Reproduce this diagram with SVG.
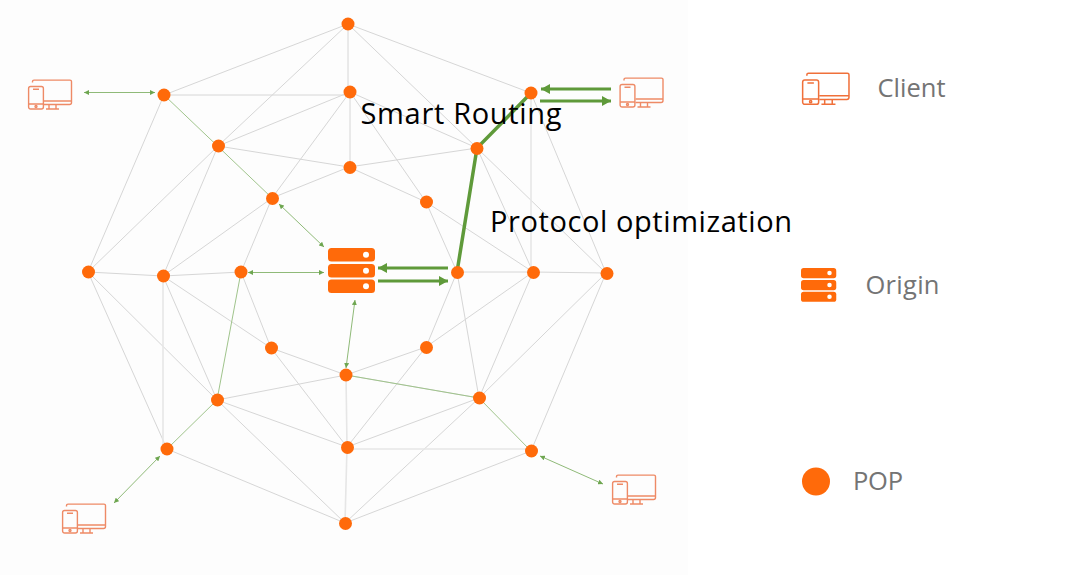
<svg xmlns="http://www.w3.org/2000/svg" width="1072" height="575" viewBox="0 0 1072 575">
<style>
.e{stroke:#d6d6d6;stroke-width:1;fill:none}
.w{stroke:#e6e6e6;stroke-width:1.6;fill:none}
.g{stroke:#a0c48c;stroke-width:1;fill:none}
.a{stroke:#8fba78;stroke-width:1;fill:none;marker-start:url(#ts);marker-end:url(#te)}
.t{stroke:#5f9a3a;stroke-width:3.500;fill:none}
.b{stroke:#5f9a3a;stroke-width:3;fill:none;marker-end:url(#be)}
.n{fill:#ff6a0a}
.l{font-family:"Open Sans","Noto Sans",sans-serif;font-size:25.500px;fill:#747474}
.c{font-family:"Open Sans","Noto Sans",sans-serif;font-size:29px;fill:#000}
.i{fill:none;stroke:#ee8a66;stroke-width:1.400;stroke-linejoin:round}
.s{fill:#ff6a0a}.h{fill:#fff}
</style>
<defs>
<marker id="te" markerUnits="userSpaceOnUse" markerWidth="5" markerHeight="5" refX="5" refY="2.500" orient="auto"><path d="M0 0L5 2.500L0 5Z" fill="#6ea650"/></marker>
<marker id="ts" markerUnits="userSpaceOnUse" markerWidth="5" markerHeight="5" refX="0" refY="2.500" orient="auto"><path d="M5 0L0 2.500L5 5Z" fill="#6ea650"/></marker>
<marker id="be" markerUnits="userSpaceOnUse" markerWidth="10" markerHeight="10" refX="9" refY="5" orient="auto"><path d="M0 0L9 5L0 10Z" fill="#5f9a3a"/></marker>
<g id="dev">
<path d="M4.500 3V2Q4.500 .6 6 .6H42Q43.500 .6 43.500 2V23Q43.500 25 41.500 25H16M16 21.500H43.500M21 25V29.500M28 25V29.500M18 29.500H31"/>
<rect x=".6" y="7" width="14.800" height="22.500" rx="2"/>
<path d="M.6 24.500H15.400M5 9.800H11"/>
<circle cx="8" cy="27" r="1"/>
</g>
<g id="srv">
<rect class="s" x="0" y="0" width="47" height="13.500" rx="3.500"/><circle class="h" cx="38" cy="6.800" r="3"/>
<rect class="s" x="0" y="16" width="47" height="13.500" rx="3.500"/><circle class="h" cx="38" cy="22.800" r="3"/>
<rect class="s" x="0" y="31.500" width="47" height="13.500" rx="3.500"/><circle class="h" cx="38" cy="38.300" r="3"/>
</g>
</defs>
<rect x="0" y="0" width="688" height="575" fill="#fdfdfd"/>
<g id="connectors">
<path class="e" d="M348 24L164 95M348 24L218 146M348 24V92M348 24L531 93M348 24L477 148M164 95H350M164 95L88 272M350 92L218 146M350 92L272 198M350 92V167M350 92L477 148M350 92L426 202M218 146L349 167M218 146L88 272M218 146L163 276M272 198L349 167M272 198L163 276M272 198L241 272M349 167L477 148M349 167L426 202M477 148L533 272M477 148L606 273M531 93L606 273M426 202L457 272M426 202L533 272M88 272L163 276M88 272L167 449M88 272L217 400M163 276L241 272M163 276L217 400M163 276L271 348M241 272L271 348M457 272L533 272M533 272L606 273M457 272L426 347M457 272L479 398M533 272L426 347M533 272L479 398M606 273L479 398M606 273L531 451M271 348L346 375M271 348L347 447M426 347L346 375M426 347L347 447M346 375L217 400M346 375L479 398M479 398L347 447M479 398L345 523M217 400L347 447M217 400L345 523M167 449L345 523M531 451L345 523"/>
<path class="w" d="M531 93V272M163 276L163 449M346 375L347 447L345 523M347 449H531"/>
<path class="g" d="M164 95L272 198M241 272L217 400M217 400L167 449M346 375L479 398L531 451"/>
<path class="t" d="M531 93L477 148L457 272"/>
<path class="b" d="M611 89H541"/>
<path class="b" d="M540 101H611"/>
<path class="b" d="M448 268H378"/>
<path class="b" d="M378 281H448"/>
<path class="a" d="M84 92.500H155"/>
<path class="a" d="M279 204L324 247"/>
<path class="a" d="M248 272.500H324"/>
<path class="a" d="M355 300L346 368"/>
<path class="a" d="M114 503L160 456"/>
<path class="a" d="M540 456L603 484"/>
</g>
<g id="pops">
<circle id="pop-a" class="n" cx="348" cy="24" r="6.500"/>
<circle id="pop-b" class="n" cx="164" cy="95" r="6.500"/>
<circle id="pop-c" class="n" cx="350" cy="92" r="6.500"/>
<circle id="pop-d" class="n" cx="531" cy="93" r="6.500"/>
<circle id="pop-e" class="n" cx="218.500" cy="146" r="6.500"/>
<circle id="pop-f" class="n" cx="350" cy="167.500" r="6.500"/>
<circle id="pop-g" class="n" cx="477" cy="148.500" r="6.500"/>
<circle id="pop-h" class="n" cx="272.500" cy="198.500" r="6.500"/>
<circle id="pop-i" class="n" cx="426.500" cy="202" r="6.500"/>
<circle id="pop-j" class="n" cx="88.500" cy="272" r="6.500"/>
<circle id="pop-k" class="n" cx="163.500" cy="276" r="6.500"/>
<circle id="pop-l" class="n" cx="241" cy="272" r="6.500"/>
<circle id="pop-m" class="n" cx="457.500" cy="272.500" r="6.500"/>
<circle id="pop-n" class="n" cx="533.500" cy="272.500" r="6.500"/>
<circle id="pop-o" class="n" cx="607" cy="273.500" r="6.500"/>
<circle id="pop-p" class="n" cx="271.500" cy="348" r="6.500"/>
<circle id="pop-q" class="n" cx="426.500" cy="347.500" r="6.500"/>
<circle id="pop-r" class="n" cx="346" cy="375" r="6.500"/>
<circle id="pop-s" class="n" cx="217.500" cy="400" r="6.500"/>
<circle id="pop-t" class="n" cx="479.500" cy="398" r="6.500"/>
<circle id="pop-u" class="n" cx="347.500" cy="447.500" r="6.500"/>
<circle id="pop-v" class="n" cx="167" cy="449" r="6.500"/>
<circle id="pop-w" class="n" cx="531.500" cy="451" r="6.500"/>
<circle id="pop-x" class="n" cx="345.500" cy="523.500" r="6.500"/>
</g>
<g id="origin"><use href="#srv" x="328" y="248"/></g>
<g id="client-tl" class="i"><use href="#dev" x="28" y="79.500"/></g>
<g id="client-tr" class="i"><use href="#dev" x="619.500" y="77.500"/></g>
<g id="client-bl" class="i"><use href="#dev" x="62" y="503.500"/></g>
<g id="client-br" class="i"><use href="#dev" x="612" y="474.500"/></g>
<text class="c" x="360.500" y="124" textLength="201">Smart Routing</text>
<text class="c" x="490" y="232" textLength="302">Protocol optimization</text>
<g id="legend-client"><g class="i" style="stroke:#f0703a" transform="translate(802 72.500) scale(1.080)"><use href="#dev"/></g><text class="l" x="877.500" y="97" textLength="68">Client</text></g>
<g id="legend-origin"><use href="#srv" transform="translate(801 268) scale(.75)"/><text class="l" x="865.500" y="294" textLength="74">Origin</text></g>
<g id="legend-pop"><circle class="n" cx="816" cy="481.500" r="14"/><text class="l" x="853" y="490" textLength="50">POP</text></g>
</svg>
